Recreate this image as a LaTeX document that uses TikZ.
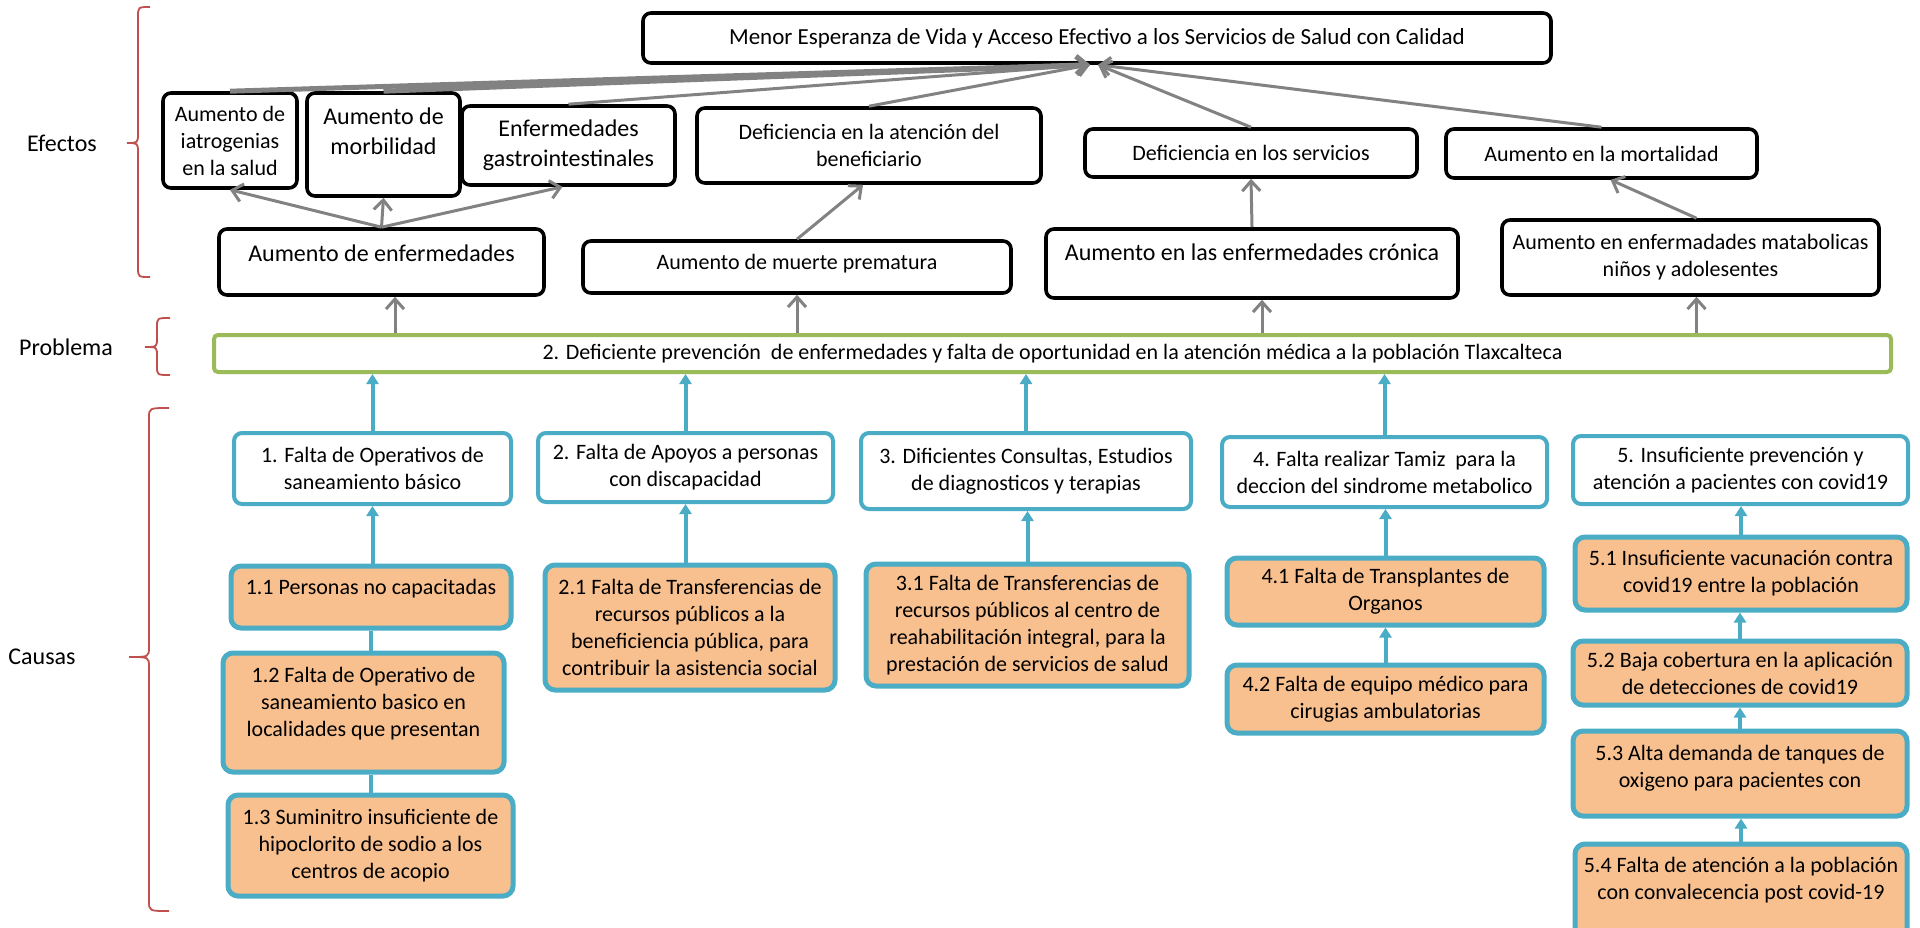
\documentclass[tikz,border=0pt]{standalone}
\usepackage{fontspec}
\setmainfont{Carlito}
\usetikzlibrary{arrows.meta}
\definecolor{azul}{HTML}{4BACC6}
\definecolor{naranja}{HTML}{F9C08F}
\definecolor{verde}{HTML}{9BBB59}
\definecolor{rojo}{HTML}{C0504D}
\definecolor{gris}{HTML}{828282}

\begin{document}
\begin{tikzpicture}[x=0.5pt,y=-0.5pt,
  effbox/.style={draw=black,line width=1.8pt,rounded corners=4pt,fill=white,align=center,inner sep=2pt,font=\fontsize{11}{13.5}\selectfont},
  causebox/.style={draw=azul,line width=2pt,rounded corners=4pt,fill=white,align=center,inner sep=2pt,font=\fontsize{11}{13.5}\selectfont},
  subbox/.style={causebox,fill=naranja,line width=2.5pt,rounded corners=5pt},
  big/.style={font=\fontsize{12}{15}\selectfont},
  side/.style={font=\fontsize{12}{14}\selectfont},
  garrow/.style={draw=gris,line width=1.5pt,-{Straight Barb[length=5pt,width=9pt]}},
  carrow/.style={draw=azul,line width=2pt,-{Triangle[length=5pt,width=6pt]}},
  cline/.style={draw=azul,line width=2pt},
  llave/.style={draw=rojo,line width=0.9pt}]
\useasboundingbox (0,0) rectangle (1920,927);
\clip (0,0) rectangle (1920,927);

\node[side] at (62,143) (efectos) {Efectos};
\node[side] at (66,347) (problemalbl) {Problema};
\node[side] at (42,657) (causas) {Causas};
\draw[llave] (150,7) .. controls (138,7) .. (138,17) -- (138,133) .. controls (138,143) .. (127,143)
  .. controls (138,143) .. (138,153) -- (138,267) .. controls (138,277) .. (150,277);
\draw[llave] (170,318) .. controls (157,318) .. (157,327) -- (157,338) .. controls (157,347) .. (145,347)
  .. controls (157,347) .. (157,356) -- (157,366) .. controls (157,375) .. (170,375);
\draw[llave] (169,408) .. controls (149,408) .. (149,418) -- (149,647) .. controls (149,657) .. (129,657)
  .. controls (149,657) .. (149,667) -- (149,901) .. controls (149,911) .. (169,911);

\node[effbox,minimum width=454pt,minimum height=25pt,font=\fontsize{11.5}{14}\selectfont] at (1097,38) (menor) {Menor Esperanza de Vida y Acceso Efectivo a los Servicios de Salud con Calidad};
\node[effbox,minimum width=67pt,minimum height=47.5pt] at (230,140.5) (iatro) {Aumento de\\iatrogenias\\en la salud};
\node[effbox,big,minimum width=76.5pt,minimum height=51.5pt] at (383.5,144.5) (morbi) {Aumento de\\morbilidad\\[-1.5pt]~};
\node[effbox,big,minimum width=106.5pt,minimum height=39.5pt] at (568.5,145.5) (gastro) {Enfermedades\\gastrointestinales};
\node[effbox,minimum width=172pt,minimum height=37.5pt] at (869,145.5) (atencion) {Deficiencia en la atención del\\beneficiario};
\node[effbox,minimum width=166pt,minimum height=24pt] at (1251,153) (servicios) {Deficiencia en los servicios};
\node[effbox,minimum width=155.5pt,minimum height=24.5pt] at (1601.5,153.5) (mortalidad) {Aumento en la mortalidad};

\node[effbox,big,minimum width=162.5pt,minimum height=33pt,text height=9pt,text depth=9.6pt] at (381.5,262) (enfer) {Aumento de enfermedades};
\node[effbox,minimum width=214pt,minimum height=26pt,text height=8.5pt,text depth=5.8pt] at (797,267) (muerte) {Aumento de muerte prematura};
\node[effbox,big,minimum width=206pt,minimum height=34.5pt,text height=9pt,text depth=11.6pt] at (1252,263.5) (cronica) {Aumento en las enfermedades crónica};
\node[effbox,minimum width=188.5pt,minimum height=37.5pt] at (1690.5,257.5) (metab) {Aumento en enfermadades matabolicas\\niños y adolesentes};

\node[draw=verde,line width=2pt,rounded corners=2pt,fill=white,inner sep=1pt,minimum width=838.5pt,minimum height=18.5pt,font=\fontsize{11}{13.5}\selectfont] at (1052.5,353.5) (problema) {2. Deficiente prevención~ de enfermedades y falta de oportunidad en la atención médica a la población Tlaxcalteca};

\node[causebox,minimum width=138.5pt,minimum height=35.5pt] at (372.5,468.5) (c1) {1. Falta de Operativos de\\saneamiento básico};
\node[causebox,minimum width=147.5pt,minimum height=34.5pt] at (685.5,467.5) (c2) {2. Falta de Apoyos a personas\\con discapacidad};
\node[causebox,minimum width=165pt,minimum height=38pt] at (1026,471) (c3) {3. Dificientes Consultas, Estudios\\de diagnosticos y terapias};
\node[causebox,minimum width=162.5pt,minimum height=35pt] at (1384.5,472) (c4) {4. Falta realizar Tamiz~ para la\\deccion del sindrome metabolico};
\node[causebox,minimum width=167.5pt,minimum height=34pt] at (1740.5,470) (c5) {5. Insuficiente prevención y\\atención a pacientes con covid19};

\node[subbox,minimum width=140pt,minimum height=31pt,text height=8.5pt,text depth=10.8pt] at (371,597) (c11) {1.1 Personas no capacitadas};
\node[subbox,minimum width=140.5pt,minimum height=59.5pt] at (363.5,712.5) (c12) {1.2 Falta de Operativo de\\saneamiento basico en\\localidades que presentan\\[-3pt]~};
\node[subbox,minimum width=142.5pt,minimum height=50.5pt] at (370.5,845.5) (c13) {1.3 Suminitro insuficiente de\\hipoclorito de sodio a los\\centros de acopio};
\node[subbox,minimum width=145pt,minimum height=62.5pt] at (690,627.5) (c21) {2.1 Falta de Transferencias de\\recursos públicos a la\\beneficiencia pública, para\\contribuir la asistencia social};
\node[subbox,minimum width=161.5pt,minimum height=61pt] at (1027.5,625) (c31) {3.1 Falta de Transferencias de\\recursos públicos al centro de\\reahabilitación integral, para la\\prestación de servicios de salud};
\node[subbox,minimum width=158.5pt,minimum height=33.5pt] at (1385.5,591.5) (c41) {4.1 Falta de Transplantes de\\Organos};
\node[subbox,minimum width=158.5pt,minimum height=34pt] at (1385.5,699) (c42) {4.2 Falta de equipo médico para\\cirugias ambulatorias};
\node[subbox,minimum width=166pt,minimum height=36.5pt] at (1741,573.5) (c51) {5.1 Insuficiente vacunación contra\\covid19 entre la población};
\node[subbox,minimum width=167pt,minimum height=32pt] at (1740,673) (c52) {5.2 Baja cobertura en la aplicación\\de detecciones de covid19};
\node[subbox,minimum width=167pt,minimum height=42.5pt] at (1740,773.5) (c53) {5.3 Alta demanda de tanques de\\oxigeno para pacientes con\\[-6pt]~};
\node[subbox,minimum width=166pt,minimum height=50pt] at (1741,894) (c54) {5.4 Falta de atención a la población\\con convalecencia post covid-19\\[2pt]~};

\coordinate (tl) at ([xshift=-3.5pt]menor.south);
\coordinate (tr) at ([xshift=0.5pt]menor.south);
\draw[garrow,line width=2.5pt] (iatro.north) -- (tl);
\draw[garrow,line width=2.5pt] (morbi.north) -- (tl);
\draw[garrow] (gastro.north) -- (tl);
\draw[garrow] (atencion.north) -- (tl);
\draw[garrow] (servicios.north) -- (tr);
\draw[garrow] (mortalidad.north) -- (tr);
\draw[garrow] (enfer.north) -- (iatro.south);
\draw[garrow] (enfer.north) -- (morbi.south);
\draw[garrow] (enfer.north) -- ([xshift=-3pt]gastro.south);
\draw[garrow] (muerte.north) -- ([xshift=-3pt]atencion.south);
\draw[garrow] (cronica.north) -- (servicios.south);
\draw[garrow] ([xshift=3pt]metab.north) -- ([xshift=4.5pt]mortalidad.south);
\draw[garrow] ([xshift=6.75pt]enfer.south |- problema.north) -- ([xshift=6.75pt]enfer.south);
\draw[garrow] (muerte.south |- problema.north) -- (muerte.south);
\draw[garrow] ([xshift=5pt]cronica.south |- problema.north) -- ([xshift=5pt]cronica.south);
\draw[garrow] ([xshift=3pt]metab.south |- problema.north) -- ([xshift=3pt]metab.south);

\draw[carrow] (c1.north) -- (c1.north |- problema.south);
\draw[carrow] (c2.north) -- (c2.north |- problema.south);
\draw[carrow] (c3.north) -- (c3.north |- problema.south);
\draw[carrow] (c4.north) -- (c4.north |- problema.south);
\draw[carrow] (c1.south |- c11.north) -- (c1.south);
\draw[cline] (c11.south) -- (c11.south |- c12.north);
\draw[cline] (c13.north) -- (c13.north |- c12.south);
\draw[carrow] (c2.south |- c21.north) -- (c2.south);
\draw[carrow] (c31.north) -- (c31.north |- c3.south);
\draw[carrow] (c41.north) -- (c41.north |- c4.south);
\draw[carrow] (c42.north) -- (c42.north |- c41.south);
\draw[carrow] (c51.north) -- (c51.north |- c5.south);
\draw[carrow] (c52.north) -- (c52.north |- c51.south);
\draw[carrow] (c53.north) -- (c53.north |- c52.south);
\draw[carrow] (c54.north) -- (c54.north |- c53.south);
\end{tikzpicture}
\end{document}
